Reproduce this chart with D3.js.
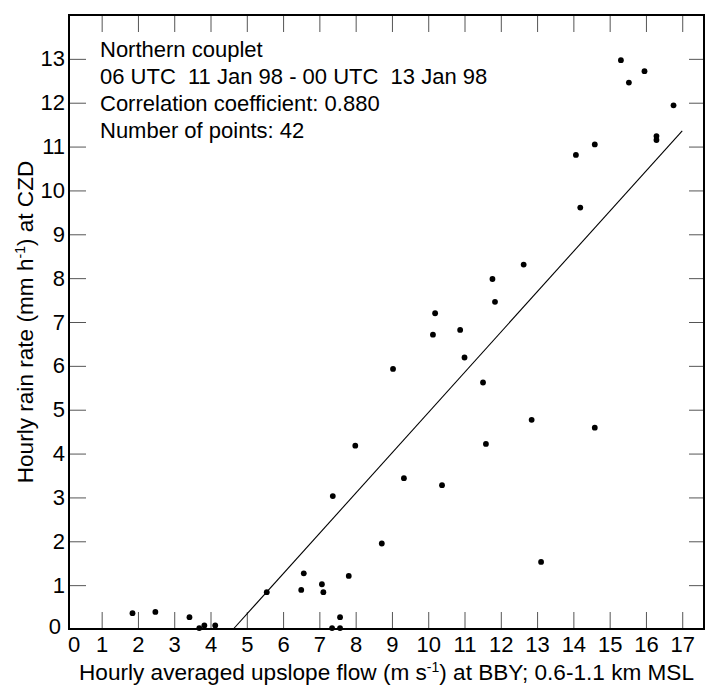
<!DOCTYPE html>
<html lang="en">
<meta charset="utf-8">

<head>
    <title>Northern couplet</title>
    <script src="https://d3js.org/d3.v7.min.js"></script>
    <style>
        body { margin: 0; background: #fff; }
        text { font-family: "Liberation Sans", Arial, sans-serif; fill: #000; }
    </style>
</head>

<body>
    <div id="plot"></div>
    <script>

        // upslope flow (m/s) at BBY
        var flow = [1.85, 2.48, 3.42, 3.69, 3.83, 4.13, 5.55, 6.57, 6.50, 7.07,
            7.11, 7.81, 7.35, 7.57, 7.57, 8.72, 11.84, 10.19, 10.13, 10.88,
            11.00, 9.03, 11.51, 7.99, 11.59, 9.33, 10.38, 7.37, 12.63, 11.77,
            14.19, 12.85, 14.59, 13.11, 15.31, 15.96, 15.53, 16.76, 16.29, 16.29,
            14.59, 14.07];
        // rain rate (mm/h) at CZD
        var rain = [0.36, 0.39, 0.27, 0.02, 0.08, 0.08, 0.84, 1.27, 0.89, 1.02,
            0.84, 1.21, 0.02, 0.02, 0.27, 1.95, 7.46, 7.20, 6.71, 6.82,
            6.19, 5.93, 5.62, 4.18, 4.22, 3.44, 3.28, 3.03, 8.31, 7.98,
            9.61, 4.77, 4.59, 1.53, 12.97, 12.72, 12.46, 11.94, 11.24, 11.15,
            11.05, 10.81];

        // fit line end points
        var fitX = [4.63, 17.0];
        var fitY = [0, 11.36];

        var xTicks = d3.range(0, 18);
        var yTicks = d3.range(0, 14);

        var notes = ["Northern couplet",
            "06 UTC\u00a0\u00a011 Jan 98 - 00 UTC\u00a0\u00a013 Jan 98",
            "Correlation coefficient: 0.880",
            "Number of points: 42"];

        var box = { left: 69, right: 704, top: 15, bottom: 629 };
        var fs = "22px";

        var svg = d3.select("#plot").append("svg")
            .attr("width", 707)
            .attr("height", 687);

        var x = d3.scaleLinear().domain([0.1, 17.6]).range([box.left, box.right]);
        var y = d3.scaleLinear().domain([0, 14]).range([box.bottom, box.top]);

        var tickLen = 17;

        // bottom axis (labels), ticks drawn inward
        var xAxis = svg.append("g")
            .attr("transform", "translate(0," + box.bottom + ")")
            .call(d3.axisBottom(x).tickValues(xTicks.slice(1)).tickSize(-tickLen).tickFormat(d3.format("d")));
        xAxis.select(".domain").remove();
        xAxis.selectAll("line").attr("stroke", "#555");
        xAxis.selectAll("text").style("font-size", fs).attr("dy", "0.71em").attr("y", 7);
        // zero label sits just inside the frame corner
        svg.append("text")
            .attr("x", x(0.1) - 1)
            .attr("y", box.bottom + 7)
            .attr("dy", "0.71em")
            .style("font-size", fs)
            .text(xTicks[0]);

        var topAxis = svg.append("g")
            .attr("transform", "translate(0," + box.top + ")")
            .call(d3.axisTop(x).tickValues(xTicks.slice(1)).tickSize(-tickLen).tickFormat(""));
        topAxis.select(".domain").remove();
        topAxis.selectAll("line").attr("stroke", "#555");

        var yAxis = svg.append("g")
            .attr("transform", "translate(" + box.left + ",0)")
            .call(d3.axisLeft(y).tickValues(yTicks).tickSize(-tickLen).tickFormat(d3.format("d")));
        yAxis.select(".domain").remove();
        yAxis.selectAll("line").attr("stroke", "#555");
        yAxis.selectAll("text").style("font-size", fs).attr("x", -4);
        yAxis.selectAll(".tick").filter(function (d) { return d == 0; })
            .select("text").attr("x", -8).attr("dy", "0.2em");

        var rightAxis = svg.append("g")
            .attr("transform", "translate(" + box.right + ",0)")
            .call(d3.axisRight(y).tickValues(yTicks.slice(1)).tickSize(-15).tickFormat(""));
        rightAxis.select(".domain").remove();
        rightAxis.selectAll("line").attr("stroke", "#555");

        // frame
        svg.append("rect")
            .attr("x", box.left)
            .attr("y", box.top)
            .attr("width", box.right - box.left)
            .attr("height", box.bottom - box.top)
            .attr("fill", "none")
            .attr("stroke", "#000")
            .attr("stroke-width", 2);

        // regression line
        svg.append("line")
            .attr("x1", x(fitX[0])).attr("y1", y(fitY[0]))
            .attr("x2", x(fitX[1])).attr("y2", y(fitY[1]))
            .attr("stroke", "#000")
            .attr("stroke-width", 1.1);

        svg.append("g")
            .selectAll("circle")
            .data(flow)
            .enter()
            .append("circle")
            .attr("cx", function (d) { return x(d); })
            .attr("cy", function (d, i) { return y(rain[i]); })
            .attr("r", 2.9)
            .attr("fill", "#000");

        svg.append("g")
            .selectAll("text")
            .data(notes)
            .enter()
            .append("text")
            .attr("x", 100)
            .attr("y", function (d, i) { return 57 + i * 27; })
            .style("font-size", fs)
            .text(function (d) { return d; });

        // axis titles
        var xt = svg.append("text")
            .attr("x", (box.left + box.right) / 2)
            .attr("y", 680)
            .attr("text-anchor", "middle")
            .style("font-size", "22.6px");
        xt.append("tspan").text("Hourly averaged upslope flow (m s");
        xt.append("tspan").attr("dy", -8).style("font-size", "14px").text("-1");
        xt.append("tspan").attr("dy", 8).text(") at BBY; 0.6-1.1 km MSL");

        var yt = svg.append("text")
            .attr("transform", "translate(33," + (box.top + box.bottom) / 2 + ") rotate(-90)")
            .attr("text-anchor", "middle")
            .style("font-size", "22.6px");
        yt.append("tspan").text("Hourly rain rate (mm h");
        yt.append("tspan").attr("dy", -8).style("font-size", "14px").text("-1");
        yt.append("tspan").attr("dy", 8).text(") at CZD");

    </script>
</body>

</html>
